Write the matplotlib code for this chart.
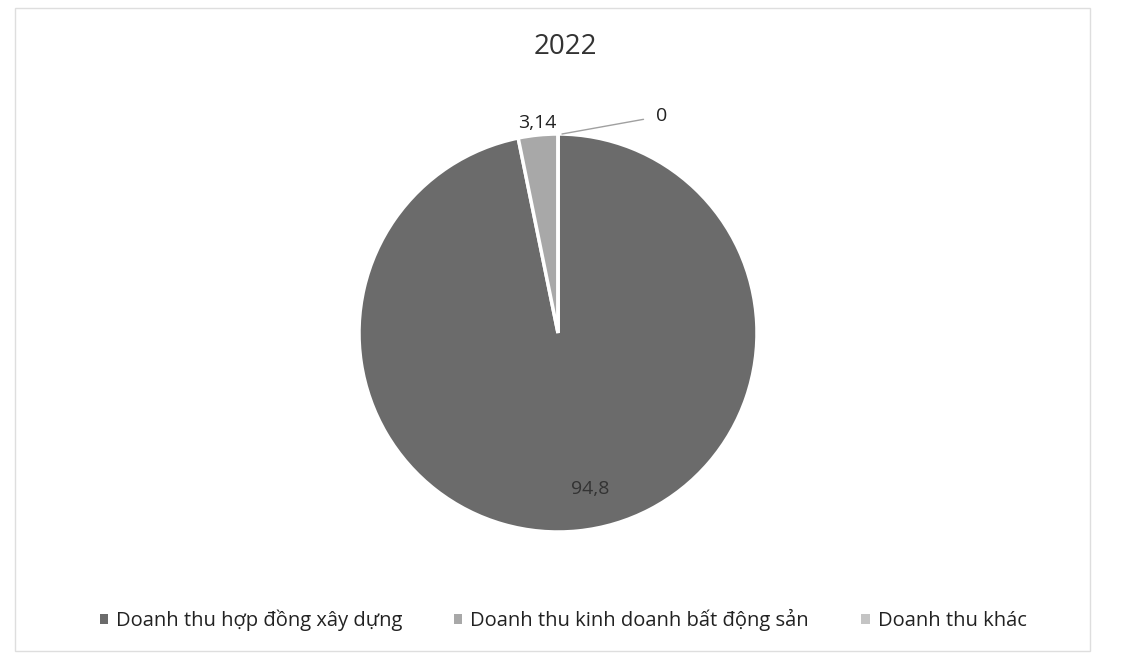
import numpy as np
import matplotlib
matplotlib.use("Agg")
import matplotlib.pyplot as plt
from matplotlib.patches import Patch, Rectangle

plt.rcParams['font.family'] = ['Open Sans', 'DejaVu Sans']

title = "2022"
categories = ["Doanh thu hợp đồng xây dựng", "Doanh thu kinh doanh bất động sản", "Doanh thu khác"]
values = [94.8, 3.14, 0]
value_labels = ["94,8", "3,14", "0"]
colors = ["#6b6b6b", "#a8a8a8", "#c4c4c4"]

W, H = 1121, 659
fig = plt.figure(figsize=(W / 100, H / 100), dpi=100)
fig.patch.set_facecolor("white")

# chart frame
fig.add_artist(Rectangle((15 / W, 1 - 651 / H), (1090 - 15) / W, (651 - 8) / H,
                         transform=fig.transFigure, fill=False,
                         edgecolor="#dedede", linewidth=1))

cx, cy, r = 558, 333, 199
ax = fig.add_axes([(cx - r) / W, 1 - (cy + r) / H, 2 * r / W, 2 * r / H])
wedges, _ = ax.pie(values, colors=colors, startangle=90, counterclock=False,
                   wedgeprops=dict(edgecolor="white", linewidth=2.5), radius=1)
ax.set_xlim(-1, 1)
ax.set_ylim(-1, 1)
ax.set_aspect("equal")
ax.axis("off")

def mid(w):
    a = np.deg2rad((w.theta1 + w.theta2) / 2)
    return np.cos(a), np.sin(a)

# 94,8 inside
c, s = mid(wedges[0])
ax.text(0.79 * c + 0.08, 0.79 * s, value_labels[0], ha="center", va="center",
        fontsize=14, color="#333333", clip_on=False)
# 3,14 outside
c, s = mid(wedges[1])
ax.text(1.06 * c - 0.0, 1.06 * s, value_labels[1], ha="center", va="center",
        fontsize=14, color="#222222", clip_on=False)
# 0 with leader line
c, s = mid(wedges[2])
ax.annotate(value_labels[2], xy=(c * 1.0 + 0.02, s * 1.0), xytext=(c + 0.52, s + 0.09),
            ha="center", va="center", fontsize=14, color="#222222",
            arrowprops=dict(arrowstyle="-", color="#a0a0a0", lw=1,
                            shrinkA=7, shrinkB=0),
            annotation_clip=False)

fig.text(565 / W, 1 - 47 / H, title, ha="center", va="center", fontsize=20, color="#333333")

handles = [Patch(facecolor=col, edgecolor="none") for col in colors]
fig.legend(handles, categories, loc="center", bbox_to_anchor=(563 / W, 1 - 620 / H),
           ncol=3, frameon=False, fontsize=14.5, handlelength=0.4, handleheight=0.4,
           handletextpad=0.4, columnspacing=2.6, labelcolor="#222222")

fig.savefig("out.png", dpi=100, facecolor="white")
